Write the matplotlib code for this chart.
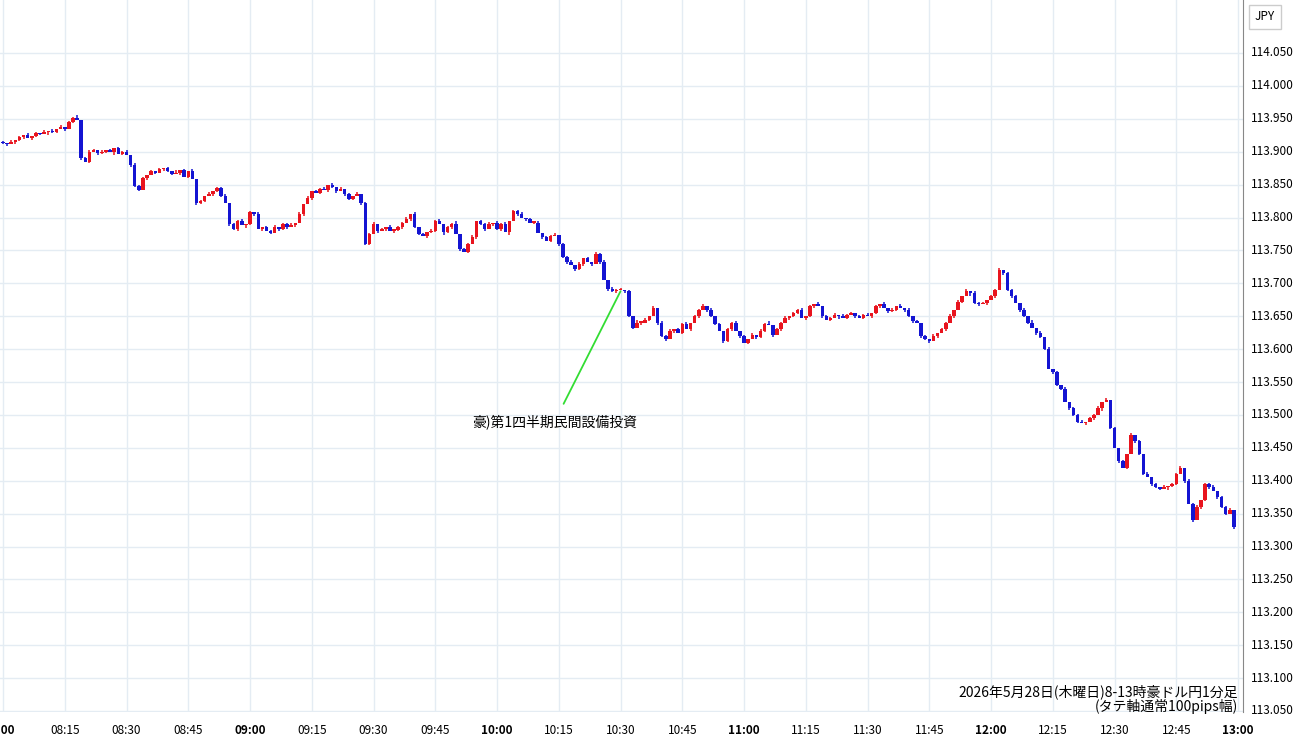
import matplotlib
matplotlib.use("Agg")
import matplotlib.pyplot as plt
import numpy as np

plt.rcParams['font.family'] = ['Noto Sans CJK JP', 'DejaVu Sans']

# closes in thousandths above 113.000, one per minute from 08:00
closes = [
913,911,915,918,922,925,921,924,928,927,930,932,930,934,938,
935,945,952,948,890,885,900,903,898,900,902,899,905,897,900,
895,880,848,842,860,865,870,868,873,875,870,866,868,872,862,
870,858,822,825,832,836,840,845,833,822,790,782,795,788,790,
808,805,782,785,780,777,785,782,790,785,788,792,805,820,830,
840,838,844,842,850,846,840,843,835,828,832,835,822,760,775,
790,780,782,785,780,781,785,792,798,805,785,775,772,778,780,
795,790,778,785,790,775,752,748,760,770,795,790,782,790,792,
782,790,778,795,810,805,800,798,792,792,776,770,765,772,773,
760,740,732,728,722,729,738,732,730,745,732,705,692,688,690,
690,688,650,632,640,640,645,650,662,640,620,615,628,630,625,
638,630,640,650,660,665,660,650,638,628,612,630,640,628,620,
610,615,622,618,628,638,636,622,630,640,648,650,655,660,648,
650,665,668,665,650,645,648,652,650,648,652,655,650,648,652,
650,655,665,668,662,658,660,665,662,660,650,642,640,620,615,
612,620,625,630,640,650,660,672,680,688,685,670,668,670,675,
680,690,720,715,690,680,670,660,650,640,632,625,618,600,570,
565,545,540,520,510,500,490,488,490,495,500,510,520,522,480,
450,430,420,440,470,460,440,410,405,395,390,388,390,392,395,
410,420,400,365,340,360,370,395,390,385,375,360,350,355,330]
first_open = 915
wick_up = ("2130213021302130214023103120213"
           "0312021302140213021302130213021"
           "3021402130312021302130214021302"
           "1302130312021302140213021302130"
           "2140213021302130312021302130214"
           "0213021302130213031202130213021"
           "4021302130213021303120213021302"
           "1402130213021302130312021302130"
           "2140213021302130213031202130213"
           "02140213021302130213031202130")
wick_dn = ("1203120312041203120312031204120"
           "3120312031204120312031203120412"
           "0312031203120412031203120312041"
           "2031203120312041203120312031204"
           "1203120312031204120312031203120"
           "4120312031203120412031203120312"
           "0412031203120312041203120312031"
           "2041203120312031204120312031203"
           "1204120312031203120412031203120"
           "31204120312031203120412031203")
ticks_min = list(range(0, 301, 15))
tick_labels = ["8:00","08:15","08:30","08:45","09:00","09:15","09:30","09:45","10:00","10:15",
               "10:30","10:45","11:00","11:15","11:30","11:45","12:00","12:15","12:30","12:45","13:00"]
price_ticks = [113.05 + 0.05*i for i in range(21)]

fig = plt.figure(figsize=(13, 7.45), dpi=100)
ax = fig.add_axes([0, 1-712/745, 1243/1300, 712/745])
ax.set_xlim(-0.73, 301.2)
ax.set_ylim(113.0485, 114.1306)

c = np.array(closes)/1000 + 113
o = np.concatenate([[first_open/1000 + 113], c[:-1]])
wu = np.array([int(ch) for ch in wick_up[:len(c)]])/1000
wd = np.array([int(ch) for ch in wick_dn[:len(c)]])/1000
x = np.arange(len(c))
up = c >= o
col = np.where(up, '#e8141e', '#1414d2')
hi = np.maximum(o, c) + wu
lo = np.minimum(o, c) - wd
ax.vlines(x, lo, hi, colors=col, lw=1.1, zorder=3)
body_b = np.minimum(o, c)
body_h = np.maximum(np.abs(c-o), 0.002)
ax.bar(x, body_h, bottom=body_b, width=0.85, color=col, zorder=4, linewidth=0)

for t in ticks_min:
    ax.axvline(t, color='#e4ecf3', lw=1, zorder=0)
for p in price_ticks:
    ax.axhline(p, color='#e4ecf3', lw=1, zorder=0)
ax.set_xticks([]); ax.set_yticks([])
for s in ['left', 'top', 'bottom']:
    ax.spines[s].set_visible(False)
ax.spines['right'].set_color('#888888')

ax.annotate("豪)第1四半期民間設備投資", xy=(150, 113.688), xytext=(134, 113.49),
            ha='center', va='center', fontsize=10,
            arrowprops=dict(arrowstyle='-', color='#33dd33', lw=1.3, shrinkB=0, shrinkA=6))

for p in price_ticks:
    fig.text(1272/1300, 1 - (53 + (114.05-p)*658)/745, f"{p:.3f}", ha='center', va='center', fontsize=8.5)
fig.text(1265/1300, 1-17/745, "JPY", ha='center', va='center', fontsize=8.5,
         bbox=dict(boxstyle='square,pad=0.5', fc='white', ec='#cccccc'))
for t, lab in zip(ticks_min, tick_labels):
    xp = (3 + t*4.117)/1300
    fig.text(xp, 1-730/745, lab, ha='center', va='center', fontsize=8.5,
             fontweight='bold' if lab.endswith(":00") else 'normal')
fig.text(1238/1300, 1-692/745, "2026年5月28日(木曜日)8-13時豪ドル円1分足", ha='right', va='center', fontsize=10)
fig.text(1238/1300, 1-706/745, "(タテ軸通常100pips幅)", ha='right', va='center', fontsize=10)
fig.savefig("out.png", dpi=100)
